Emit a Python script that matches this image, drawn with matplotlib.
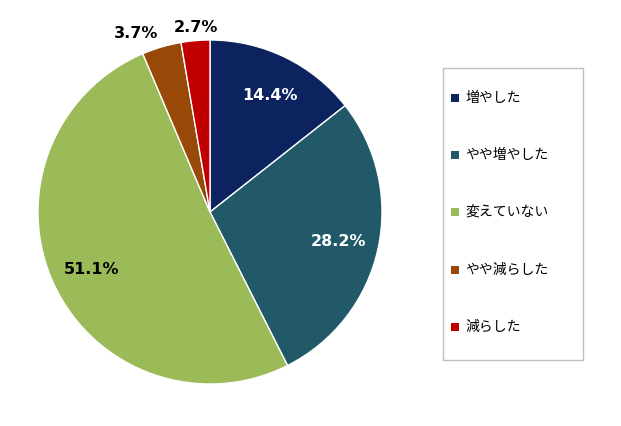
import matplotlib
matplotlib.use("Agg")
import matplotlib.pyplot as plt
from matplotlib.patches import Rectangle

plt.rcParams['font.family'] = ['Noto Sans CJK JP', 'DejaVu Sans']

labels = ["増やした", "やや増やした", "変えていない", "やや減らした", "減らした"]
values = [14.4, 28.2, 51.1, 3.7, 2.7]
colors = ["#0c2360", "#215968", "#9bbb59", "#984807", "#c00000"]
label_pos = [(270, 95), (338, 242), (92, 270), (136, 34), (196, 28)]
label_col = ["white", "white", "black", "black", "black"]

W, H = 621, 426
fig = plt.figure(figsize=(W/100, H/100), dpi=100)
cx, cy, r = 210, 212, 172
ax = fig.add_axes([(cx-r)/W, 1-(cy+r)/H, 2*r/W, 2*r/H])
ax.pie(values, colors=colors, startangle=90, counterclock=False,
       wedgeprops=dict(linewidth=1, edgecolor="white"))
ax.set_xlim(-1, 1); ax.set_ylim(-1, 1)
ax.set_aspect('equal')
for v, (px, py), c in zip(values, label_pos, label_col):
    ax.text((px-cx)/r, (cy-py)/r, f"{v}%", ha='center', va='center',
            fontsize=11.5, fontweight='bold', color=c, clip_on=False,
            family='DejaVu Sans')

fig.patches.append(Rectangle((443/W, 1-360/H), 140/W, 292/H, transform=fig.transFigure,
                             facecolor='white', edgecolor='#bfbfbf', linewidth=1))
ys = [98, 155, 212, 270, 327]
for lab, c, y in zip(labels, colors, ys):
    fig.patches.append(Rectangle((451/W, 1-(y+4)/H), 8/W, 8/H, transform=fig.transFigure,
                                 facecolor=c, edgecolor='none'))
    fig.text(465/W, 1-y/H, lab, fontsize=10, va='center', ha='left')

fig.savefig("out.png", dpi=100)
